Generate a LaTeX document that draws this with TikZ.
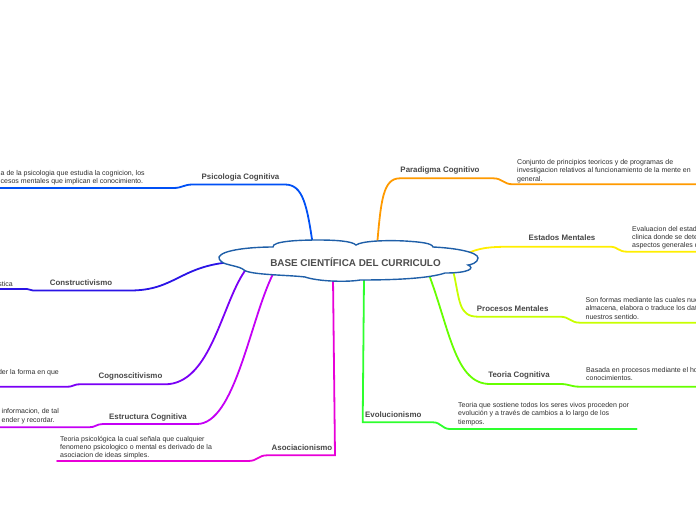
\documentclass[tikz,border=0pt]{standalone}
\usepackage{fontspec}
\setmainfont{Liberation Sans}
\definecolor{wolke}{HTML}{1F5FA8}
\definecolor{titel}{HTML}{4D4D4D}
\definecolor{lblgrau}{HTML}{474747}
\definecolor{txtgrau}{HTML}{2E2E2E}
\definecolor{psicol}{HTML}{0050F5}
\definecolor{konstr}{HTML}{2A14E6}
\definecolor{kognos}{HTML}{7A00F5}
\definecolor{strukt}{HTML}{C400F5}
\definecolor{assoz}{HTML}{E800D8}
\definecolor{paradi}{HTML}{FF9A00}
\definecolor{zustand}{HTML}{FFEE00}
\definecolor{prozess}{HTML}{C8FF00}
\definecolor{theorie}{HTML}{66FF00}
\definecolor{evol}{HTML}{2EFF2E}
\tikzset{
  ast/.style={line width=1.8pt,line cap=round},
  thema/.style={font=\bfseries\fontsize{7.9}{9}\selectfont,text=lblgrau,inner sep=0pt},
  info/.style={font=\fontsize{7}{8.3}\selectfont,text=txtgrau,align=left,inner sep=0pt},
  wolkenrand/.style={draw=wolke,fill=white,line width=1.4pt},
}

\begin{document}
\begin{tikzpicture}[x=1pt,y=-1pt]
  \useasboundingbox (0,0) rectangle (696,520);
  \clip (0,0) rectangle (696,520);
  % Ausgaenge an der Wolke
  \coordinate (w-psi) at (313,246);
  \coordinate (w-kon) at (232,262);
  \coordinate (w-kog) at (247,268);
  \coordinate (w-str) at (273,274);
  \coordinate (w-aso) at (333,278);
  \coordinate (w-par) at (377,246);
  \coordinate (w-est) at (462,256);
  \coordinate (w-pro) at (453,270);
  \coordinate (w-teo) at (428,272);
  \coordinate (w-evo) at (364,278);
  % Themen
  \node[thema] (psi) at (240.5,177.5) {Psicologia Cognitiva};
  \node[thema] (kon) at (81,282.3) {Constructivismo};
  \node[thema] (kog) at (130.5,376.7) {Cognoscitivismo};
  \node[thema] (str) at (148,417.3) {Estructura Cognitiva};
  \node[thema] (aso) at (302,447.7) {Asociacionismo};
  \node[thema] (par) at (440,170.7) {Paradigma Cognitivo};
  \node[thema] (est) at (562,237.3) {Estados Mentales};
  \node[thema] (pro) at (512.7,309) {Procesos Mentales};
  \node[thema] (teo) at (519,375.7) {Teoria Cognitiva};
  \node[thema,anchor=west] (evo) at (365,414.3) {Evolucionismo};
  % Erklaerungen
  \node[info,anchor=north west] (t-psi) at (0.5,170) {a de la psicologia que estudia la cognicion, los\\cesos mentales que implican el conocimiento.};
  \node[info,anchor=north east] (t-kon) at (13,281) {stica};
  \node[info,anchor=north east] (t-kog) at (59,369.5) {der la forma en que};
  \node[info,anchor=north west] (t-str) at (1.5,408.5) {informacion, de tal\\ender y recordar.};
  \node[info,anchor=north west] (t-aso) at (60,436) {Teoria psicológica la cual señala que cualquier\\fenomeno psicologico o mental es derivado de la\\asociacion de ideas simples.};
  \node[info,anchor=north west] (t-par) at (517,159.3) {Conjunto de principios teoricos y de programas de\\investigacion relativos al funcionamiento de la mente en\\general.};
  \node[info,anchor=north west] (t-est) at (632,225.8) {Evaluacion del estad\\clinica donde se dete\\aspectos generales d};
  \node[info,anchor=north west] (t-pro) at (585.5,297.2) {Son formas mediante las cuales nue\\almacena, elabora o traduce los dat\\nuestros sentido.};
  \node[info,anchor=north west] (t-teo) at (586,367.2) {Basada en procesos mediante el ho\\conocimientos.};
  \node[info,anchor=north west] (t-evo) at (458,402.2) {Teoria que sostiene todos los seres vivos proceden por\\evolución y a través de cambios a lo largo de los\\tiempos.};
  % Aeste
  \draw[ast,psicol] (w-psi) .. controls (307,205) and (303,184.5) .. (285,184.5) -- (193,184.5)
    .. controls (183,184.5) and (183,188) .. (173,188) -- (0,188);
  \draw[ast,konstr] (w-kon) .. controls (180,266) and (175,290.5) .. (130,290.5) -- (33,290.5)
    .. controls (30,290.5) and (30,289) .. (27,289) -- (0,289);
  \draw[ast,kognos] (w-kog) .. controls (222,300) and (212,384.3) .. (165,384.3) -- (80,384.3)
    .. controls (73,384.3) and (74,386.7) .. (67,386.7) -- (0,386.7);
  \draw[ast,strukt] (w-str) .. controls (250,320) and (235,424) .. (197,424) -- (103,424)
    .. controls (96,424) and (96,427.3) .. (89,427.3) -- (0,427.3);
  \draw[ast,assoz] (w-aso) -- (335,455.3) -- (267,455.3)
    .. controls (258,455.3) and (258,461) .. (248,461) -- (57,461);
  \draw[ast,paradi] (w-par) .. controls (381,200) and (383,178.3) .. (400,178.3) -- (493,178.3)
    .. controls (503,178.3) and (503,184.3) .. (513,184.3) -- (696,184.3);
  \draw[ast,zustand] (w-est) .. controls (480,246.7) and (490,246.7) .. (520,246.7) -- (610,246.7)
    .. controls (618,246.7) and (618,251.7) .. (627,251.7) -- (696,251.7);
  \draw[ast,prozess] (w-pro) .. controls (460,300) and (458,316.7) .. (478,316.7) -- (560,316.7)
    .. controls (570,316.7) and (570,322.7) .. (580,322.7) -- (696,322.7);
  \draw[ast,theorie] (w-teo) .. controls (450,330) and (455,384) .. (490,384) -- (560,384)
    .. controls (570,384) and (570,386.7) .. (580,386.7) -- (696,386.7);
  \draw[ast,evol] (w-evo) -- (362.7,422.3) -- (433,422.3)
    .. controls (441,422.3) and (442,429) .. (450,429) -- (636.7,429);
  % Wolke
  \draw[wolkenrand] (219,257) .. controls (222,250) and (250,247) .. (273,247)
    .. controls (272,241) and (300,240) .. (318,240)
    .. controls (335,240) and (352,241) .. (356,245)
    .. controls (362,241) and (385,240) .. (405,241)
    .. controls (420,242) and (432,243) .. (433,247)
    .. controls (455,248) and (478,252) .. (478,258)
    .. controls (478,263) and (470,265) .. (468,265)
    .. controls (475,268) and (470,273) .. (445,273)
    .. controls (430,278) and (400,280) .. (360,280)
    .. controls (350,282) and (320,282) .. (305,277)
    .. controls (290,275) and (250,275) .. (244,270)
    .. controls (240,266) and (225,265) .. (222,262)
    .. controls (219,260) and (219,258) .. (219,257) -- cycle;
  \node[font=\bfseries\fontsize{9.9}{11}\selectfont,text=titel] (wurzel) at (355.5,262.5) {BASE CIENTÍFICA DEL CURRICULO};
\end{tikzpicture}
\end{document}
